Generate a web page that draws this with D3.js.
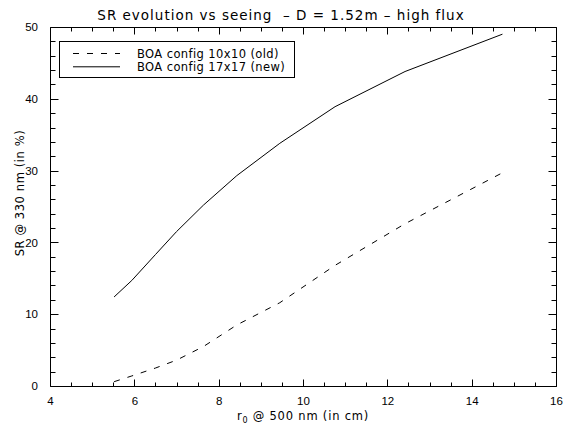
<!DOCTYPE html>
<html>
<head>
<meta charset="utf-8">
<script src="https://cdn.jsdelivr.net/npm/d3@7"></script>
<style>
  html, body { margin: 0; padding: 0; background: #fff; }
  svg { display: block; }
</style>
</head>
<body>
<svg id="chart"></svg>
<script>
// r0 @ 500 nm (cm) and Strehl ratio @ 330 nm (%)
const r0 = [5.52, 5.94, 6.5, 7.0, 7.64, 8.43, 9.45, 10.76, 12.42, 14.73];
const srOld = [0.6, 1.4, 2.5, 3.6, 5.5, 8.5, 11.6, 16.8, 22.6, 29.7];
const srNew = [12.4, 14.7, 18.3, 21.5, 25.2, 29.3, 33.8, 38.9, 43.8, 49.0];
const seriesNames = ["BOA config 10x10 (old)", "BOA config 17x17 (new)"];
const xMajorTicks = [4, 6, 8, 10, 12, 14, 16];
const yMajorTicks = [0, 10, 20, 30, 40, 50];

const width = 563, height = 426;
const margin = { top: 27, right: 7, bottom: 40, left: 50 };
const font = "'DejaVu Sans', Arial, sans-serif";
const numFont = "'Liberation Sans', Arial, sans-serif";

const svg = d3.select("#chart")
  .attr("width", width)
  .attr("height", height);

const x = d3.scaleLinear().domain([4, 16]).range([margin.left, width - margin.right]);
const y = d3.scaleLinear().domain([0, 50]).range([height - margin.bottom, margin.top]);

// title
svg.append("text")
  .attr("x", 281)
  .attr("y", 19.5)
  .attr("text-anchor", "middle")
  .attr("font-family", font)
  .attr("font-size", "13.5px")
  .attr("letter-spacing", "1px")
  .attr("fill", "#000")
  .style("white-space", "pre")
  .text("SR evolution vs seeing  \u2013 D = 1.52m \u2013 high flux");

// tick labels through d3 axes
function styleAxis(g) {
  g.select(".domain").remove();
  g.selectAll(".tick line").remove();
  g.selectAll(".tick text")
    .attr("font-family", numFont)
    .attr("font-size", "11.5px")
    .attr("fill", "#000");
}
svg.append("g").attr("transform", `translate(0,${y(0)})`)
  .call(d3.axisBottom(x).tickValues(xMajorTicks).tickSize(0).tickPadding(10.5).tickFormat(d3.format("d")))
  .call(styleAxis);
svg.append("g").attr("transform", `translate(${x(4)},0)`)
  .call(d3.axisLeft(y).tickValues(yMajorTicks).tickSize(0).tickPadding(12).tickFormat(d3.format("d")))
  .call(styleAxis);

// axis titles
const xt = svg.append("text")
  .attr("x", (margin.left + width - margin.right) / 2)
  .attr("y", 420)
  .attr("text-anchor", "middle")
  .attr("font-family", font)
  .attr("font-size", "11.5px")
  .attr("letter-spacing", "0.8px")
  .attr("fill", "#000");
xt.append("tspan").text("r");
xt.append("tspan").attr("font-size", "8px").attr("dy", 3).text("0");
xt.append("tspan").attr("dy", -3).text(" @ 500 nm (in cm)");

svg.append("text")
  .attr("transform", `translate(24,193) rotate(-90)`)
  .attr("text-anchor", "middle")
  .attr("font-family", font)
  .attr("font-size", "11.5px")
  .attr("letter-spacing", "0.6px")
  .attr("fill", "#000")
  .text("SR @ 330 nm (in %)");

// lines
const lineGen = d3.line()
  .x((d, i) => x(r0[i]))
  .y(d => y(d));

svg.append("path")
  .datum(srOld)
  .attr("d", lineGen)
  .attr("fill", "none")
  .attr("stroke", "#000")
  .attr("stroke-width", 1)
  .attr("stroke-dasharray", "6,8");

svg.append("path")
  .datum(srNew)
  .attr("d", lineGen)
  .attr("fill", "none")
  .attr("stroke", "#000")
  .attr("stroke-width", 1);

// legend
const legend = svg.append("g");
legend.append("rect")
  .attr("x", 59.5).attr("y", 41.5)
  .attr("width", 235).attr("height", 36)
  .attr("fill", "#fff").attr("stroke", "#000");

const legendItems = legend.selectAll(".legend-item")
  .data(seriesNames)
  .enter()
  .append("g")
  .attr("class", "legend-item")
  .attr("transform", (d, i) => `translate(0,${53.5 + i * 13.3})`);

legendItems.append("line")
  .attr("x1", 73).attr("x2", 120)
  .attr("stroke", "#000")
  .attr("stroke-dasharray", (d, i) => i === 0 ? "6,8" : null);

legendItems.append("text")
  .attr("x", 137)
  .attr("y", 4)
  .attr("font-family", font)
  .attr("font-size", "11.5px")
  .attr("letter-spacing", "0.4px")
  .attr("fill", "#000")
  .text(d => d);

// frame + inward tick marks on all four sides, as one path built from the scales
const xTickVals = d3.range(4, 16.01, 0.5);
const yTickVals = d3.range(0, 50.01, 2);
const xLen = d => (xMajorTicks.includes(d) ? 7 : 4);
const yLen = d => (yMajorTicks.includes(d) ? 8 : 5);
const x0 = x(4) + 0.5, x1 = x(16) + 0.5, yb = y(0) + 0.5, yt = y(50) + 0.5;

const p = d3.path();
p.moveTo(x0, yt); p.lineTo(x1, yt); p.lineTo(x1, yb); p.lineTo(x0, yb); p.closePath();
xTickVals.forEach(d => {
  const px = Math.round(x(d)) + 0.5;
  p.moveTo(px, yb); p.lineTo(px, yb - xLen(d));
  p.moveTo(px, yt); p.lineTo(px, yt + xLen(d));
});
yTickVals.forEach(d => {
  const py = Math.round(y(d)) + 0.5;
  p.moveTo(x0, py); p.lineTo(x0 + yLen(d), py);
  p.moveTo(x1, py); p.lineTo(x1 - yLen(d), py);
});

svg.append("path")
  .attr("d", p.toString())
  .attr("fill", "none")
  .attr("stroke", "#000")
  .attr("stroke-width", 1);
</script>
</body>
</html>
